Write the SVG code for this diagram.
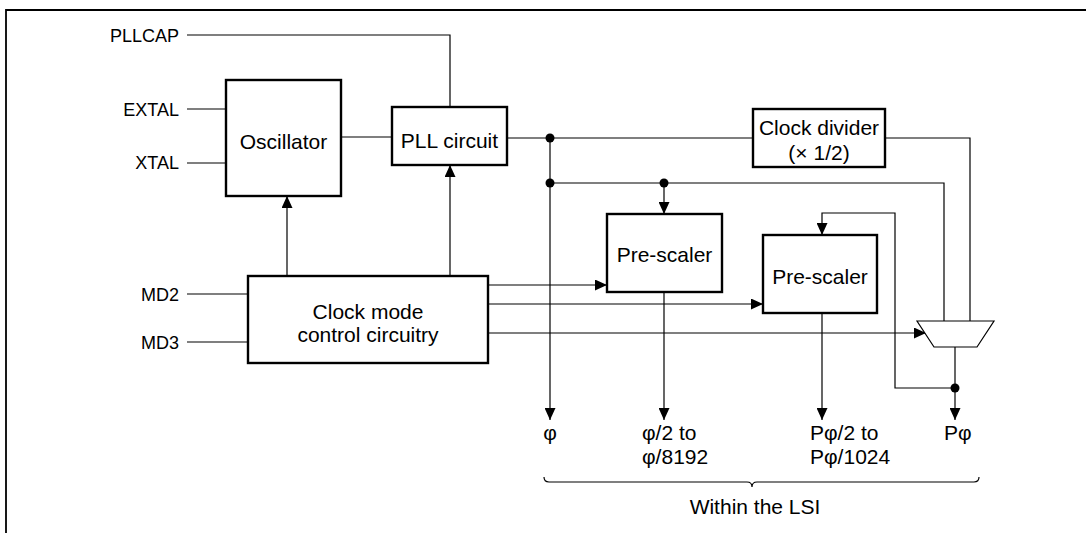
<svg xmlns="http://www.w3.org/2000/svg" width="1086" height="533" viewBox="0 0 1086 533">
<defs>
<marker id="arr" markerUnits="userSpaceOnUse" markerWidth="12" markerHeight="11" refX="12" refY="5.5" orient="auto" viewBox="0 0 12 11">
<path d="M0,0 L12,5.5 L0,11 z" fill="#000"/>
</marker>
<style>
.box{fill:#fff;stroke:#000;stroke-width:2.4}
.ln{fill:none;stroke:#000;stroke-width:1.2}
.ar{fill:none;stroke:#000;stroke-width:1.2;marker-end:url(#arr)}
.dot{fill:#000}
.t{font-family:"Liberation Sans",Arial,sans-serif;font-size:21px;fill:#000;text-anchor:middle}
.pin{font-family:"Liberation Sans",Arial,sans-serif;font-size:18px;fill:#000;text-anchor:end}
.lbl{font-family:"Liberation Sans",Arial,sans-serif;font-size:21px;fill:#000}
</style>
</defs>
<rect width="1086" height="533" fill="#fff"/>
<path d="M6,533 V10 H1086" fill="none" stroke="#000" stroke-width="1.8"/>

<g id="connectors">
<path class="ln" d="M187,35 H450 V107"/>
<path class="ln" d="M187,109 H226"/>
<path class="ln" d="M187,163 H226"/>
<path class="ln" d="M341,137 H392"/>
<path class="ar" d="M287,276 V196"/>
<path class="ar" d="M450,276 V165"/>
<path class="ln" d="M187,294 H248"/>
<path class="ln" d="M187,342 H248"/>
<path class="ln" d="M507,138 H753"/>
<path class="ln" d="M885,138 H970 V321"/>
<path class="ar" d="M550,138 V420"/>
<path class="ln" d="M550,183 H944 V321"/>
<path class="ar" d="M664,183 V214"/>
<path class="ar" d="M488,285 H607"/>
<path class="ar" d="M488,304 H763"/>
<path class="ar" d="M488,333 H926"/>
<path class="ar" d="M664,292 V420"/>
<path class="ar" d="M822,313 V420"/>
<path class="ar" d="M955,347 V420"/>
<path class="ar" d="M955,388 H895 V213 H822 V235"/>
<circle class="dot" cx="550" cy="138" r="4.5"/>
<circle class="dot" cx="550" cy="183" r="4.5"/>
<circle class="dot" cx="664" cy="183" r="4.5"/>
<circle class="dot" cx="955" cy="388" r="4.5"/>
<path class="ln" d="M544,477 Q544,482 549,482 H747 Q752,482 752,487 Q752,482 757,482 H974 Q979,482 979,477"/>
</g>

<g id="pins">
<text class="pin" x="179" y="42">PLLCAP</text>
<text class="pin" x="179" y="116">EXTAL</text>
<text class="pin" x="179" y="169">XTAL</text>
<text class="pin" x="179" y="301">MD2</text>
<text class="pin" x="179" y="349">MD3</text>
</g>

<g id="oscillator">
<rect class="box" x="226" y="80" width="115" height="116"/>
<text class="t" x="283.5" y="149">Oscillator</text>
</g>

<g id="pll">
<rect class="box" x="392" y="107" width="115" height="58"/>
<text class="t" x="449.5" y="148">PLL circuit</text>
</g>

<g id="divider">
<rect class="box" x="753" y="109" width="132" height="58"/>
<text class="t" x="819" y="135">Clock divider</text>
<text class="t" x="819" y="160">(× 1/2)</text>
</g>

<g id="prescaler1">
<rect class="box" x="607" y="214" width="115" height="78"/>
<text class="t" x="664.5" y="262">Pre-scaler</text>
</g>

<g id="prescaler2">
<rect class="box" x="763" y="235" width="114" height="78"/>
<text class="t" x="820" y="284">Pre-scaler</text>
</g>

<g id="clockmode">
<rect class="box" x="248" y="276" width="240" height="87"/>
<text class="t" x="368" y="319">Clock mode</text>
<text class="t" x="368" y="342">control circuitry</text>
</g>

<g id="mux">
<polygon points="917,321 994,321 977,347 934,347" fill="#fff" stroke="#000" stroke-width="1.2"/>
</g>

<g id="outputs">
<text class="t" x="550" y="440">φ</text>
<text class="lbl" x="642" y="440">φ/2 to</text>
<text class="lbl" x="642" y="464">φ/8192</text>
<text class="lbl" x="810" y="440">Pφ/2 to</text>
<text class="lbl" x="810" y="464">Pφ/1024</text>
<text class="lbl" x="944" y="440">Pφ</text>
<text class="t" x="755" y="514">Within the LSI</text>
</g>
</svg>
